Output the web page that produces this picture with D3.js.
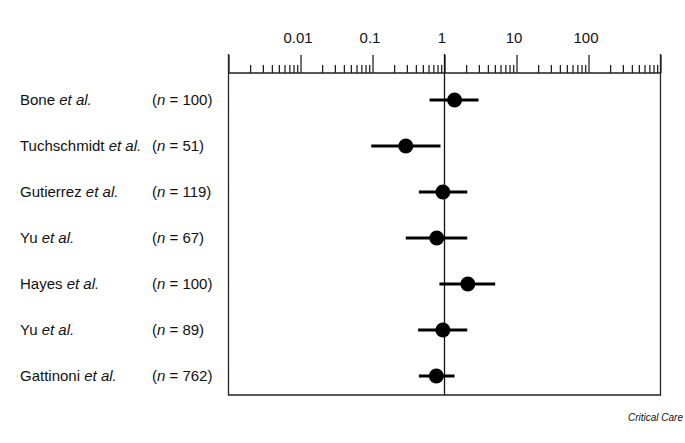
<!DOCTYPE html>
<html lang="en">
<head>
<meta charset="utf-8">
<title>Forest plot</title>
<script src="https://cdn.jsdelivr.net/npm/d3@7"></script>
<style>
  body { margin: 0; background: #fff; }
  svg text { font-family: "Liberation Sans", Arial, Helvetica, sans-serif; fill: #111; }
  .axis path { display: none; }
  .axis line { stroke: #111; stroke-width: 1.2px; }
  .axis text { font-size: 15px; }
</style>
</head>
<body>
<div id="chart"></div>
<script>
var studies = ["Bone", "Tuchschmidt", "Gutierrez", "Yu", "Hayes", "Yu", "Gattinoni"];
var sizes = [100, 51, 119, 67, 100, 89, 762];
var estimate = [1.38, 0.29, 0.95, 0.78, 2.11, 0.95, 0.77];
var lower = [0.62, 0.096, 0.44, 0.29, 0.85, 0.43, 0.44];
var upper = [2.97, 0.88, 2.07, 2.07, 5.06, 2.07, 1.38];
var majorTicks = [0.001, 0.01, 0.1, 1, 10, 100, 1000];
var tickLabels = ["", "0.01", "0.1", "1", "10", "100", ""];

var width = 685,
    height = 443;

var svg = d3.select("#chart")
    .append("svg")
    .attr("width", width)
    .attr("height", height);

var x = d3.scaleLog()
    .domain([0.001, 1000])
    .range([228.5, 660.5]);

var y = d3.scalePoint()
    .domain(d3.range(studies.length))
    .range([100, 376]);

var axisY = 73, frameTop = 54, frameBottom = 395;

// minor ticks 2..9 in every decade
var minorTicks = [];
majorTicks.slice(0, -1).forEach(function(m) {
  for (var k = 2; k <= 9; k++) minorTicks.push(m * k);
});

svg.append("g")
    .attr("class", "axis")
    .attr("transform", "translate(0," + axisY + ")")
    .call(d3.axisTop(x).tickValues(minorTicks).tickSize(8).tickSizeOuter(0).tickFormat(""));

svg.append("g")
    .attr("class", "axis")
    .attr("transform", "translate(0," + axisY + ")")
    .call(d3.axisTop(x).tickValues(majorTicks).tickSize(18).tickSizeOuter(0).tickPadding(12)
      .tickFormat(function(d, i) { return tickLabels[i]; }))
  .selectAll("text")
    .attr("dx", "-3");

// frame
svg.append("path")
    .attr("d", "M" + x(0.001) + "," + frameTop + "V" + frameBottom + "H" + x(1000) + "V" + frameTop
      + "M" + x(0.001) + "," + axisY + "H" + x(1000))
    .attr("fill", "none")
    .attr("stroke", "#222")
    .attr("stroke-width", 1.3);

// line of no effect
svg.append("line")
    .attr("x1", x(1)).attr("x2", x(1))
    .attr("y1", frameTop).attr("y2", frameBottom)
    .attr("stroke", "#111")
    .attr("stroke-width", 1.3);

var rows = svg.append("g")
  .selectAll("g")
    .data(studies)
  .enter().append("g");

rows.append("line")
    .attr("x1", function(d, i) { return x(lower[i]); })
    .attr("x2", function(d, i) { return x(upper[i]); })
    .attr("y1", function(d, i) { return y(i); })
    .attr("y2", function(d, i) { return y(i); })
    .attr("stroke", "#000")
    .attr("stroke-width", 3);

rows.append("circle")
    .attr("cx", function(d, i) { return x(estimate[i]); })
    .attr("cy", function(d, i) { return y(i); })
    .attr("r", 7.5)
    .attr("fill", "#000");

var names = rows.append("text")
    .attr("x", 20)
    .attr("y", function(d, i) { return y(i) + 5; })
    .style("font-size", "15px");
names.append("tspan").text(function(d) { return d + " "; });
names.append("tspan").style("font-style", "italic").text("et al.");

var ns = rows.append("text")
    .attr("x", 152)
    .attr("y", function(d, i) { return y(i) + 5; })
    .style("font-size", "15px");
ns.append("tspan").text("(");
ns.append("tspan").style("font-style", "italic").text("n");
ns.append("tspan").text(function(d, i) { return " = " + sizes[i] + ")"; });

svg.append("text")
    .attr("x", 683)
    .attr("y", 421)
    .attr("text-anchor", "end")
    .style("font-size", "10px")
    .style("font-style", "italic")
    .text("Critical Care");
</script>
</body>
</html>
